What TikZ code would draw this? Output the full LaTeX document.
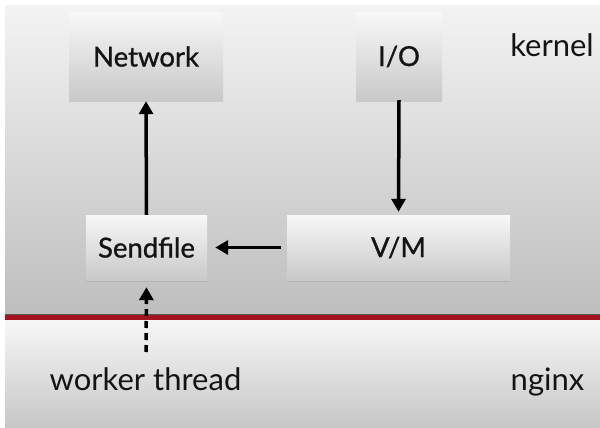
\documentclass[tikz,border=0pt]{standalone}
\usepackage{fontspec}
\setmainfont{Lato}
\newfontfamily\boxfont[FakeBold=1]{Lato}
\usetikzlibrary{arrows.meta,shadows}
\definecolor{panelTop}{HTML}{F3F3F3}
\definecolor{panelBot}{HTML}{BEBEBE}
\definecolor{lowTop}{HTML}{F7F7F7}
\definecolor{lowBot}{HTML}{C6C6C6}
\definecolor{boxTop}{HTML}{F7F7F7}
\definecolor{boxBot}{HTML}{C9C9C9}
\definecolor{redline}{HTML}{A3121F}
\definecolor{txt}{HTML}{141414}
\tikzset{
  box/.style={rectangle, minimum height=87pt, inner sep=0pt,
    top color=boxTop, bottom color=boxBot, draw=none,
    drop shadow={opacity=0.25, shadow xshift=0pt, shadow yshift=-1.5pt},
    font=\boxfont\fontsize{27.5}{33}\selectfont, text=txt},
  smallbox/.style={box, minimum height=65pt},
  conn/.style={line width=3.5pt, -{Triangle[width=14pt,length=13pt]}, black},
  lbl/.style={font=\fontsize{31}{37}\selectfont, text=txt, anchor=base, inner sep=0pt}
}
\begin{document}
\begin{tikzpicture}[x=1pt,y=-1pt]
\useasboundingbox (0,0) rectangle (600,428);
\fill[white] (0,0) rectangle (600,428);
% panels
\shade[top color=panelTop, bottom color=panelBot] (5,6) rectangle (600,314);
\shade[top color=lowTop, bottom color=lowBot] (5,320) rectangle (600,428);
\fill[redline] (5,314) rectangle (600,320);
\fill[gray!70!black] (5,313.5) rectangle (600,314.5);
% boxes
\node[box, minimum width=154pt] (net) at (146,56.5) {Network};
\node[box, minimum width=86pt] (io) at (399,56.5) {I/O};
\node[smallbox, minimum width=121pt] (sf) at (146.5,247.5) {Sendfile};
\node[smallbox, minimum width=223pt] (vm) at (398.5,247.5) {V/M};
% labels
\node[lbl] (kernel) at (552,57) {kernel};
\node[lbl] (worker) at (145.5,390) {worker thread};
\node[lbl] (nginx) at (547.5,390) {nginx};
\coordinate (wt) at (146,352);
% connectors
\draw[conn, shorten >=1pt] (sf.north) -- (net.south);
\draw[conn, shorten >=3pt] (io.south) -- (vm.north);
\draw[conn, shorten <=6pt, shorten >=8pt] (vm.west) -- (sf.east);
\draw[conn, dash pattern=on 7pt off 5pt, shorten >=7pt] (wt) -- (sf.south);
\end{tikzpicture}
\end{document}
